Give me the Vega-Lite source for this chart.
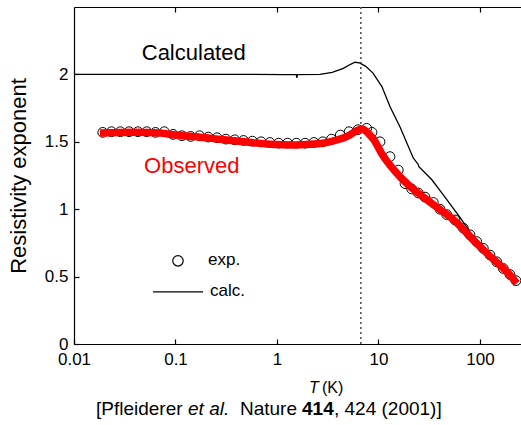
{
  "$schema": "https://vega.github.io/schema/vega-lite/v6.json",
  "width": 447,
  "height": 337,
  "autosize": "none",
  "padding": {"left": 74, "top": 7, "right": 0, "bottom": 81},
  "background": "white",
  "config": {
    "view": {"stroke": null},
    "font": "Liberation Sans",
    "axis": {"grid": false, "domainColor": "black", "tickColor": "black", "labelColor": "black", "titleColor": "black", "labelFont": "Liberation Sans", "titleFont": "Liberation Sans", "domainWidth": 1.2, "tickWidth": 1.2}
  },
  "datasets": {
    "obs": [
      {"T": 0.0192, "v": 1.57}, {"T": 0.0234, "v": 1.575}, {"T": 0.0286, "v": 1.575}, {"T": 0.0349, "v": 1.575},
      {"T": 0.0426, "v": 1.575}, {"T": 0.052, "v": 1.575}, {"T": 0.0635, "v": 1.57}, {"T": 0.0776, "v": 1.575},
      {"T": 0.0947, "v": 1.555}, {"T": 0.1156, "v": 1.545}, {"T": 0.1412, "v": 1.54}, {"T": 0.1723, "v": 1.545},
      {"T": 0.2104, "v": 1.535}, {"T": 0.2569, "v": 1.53}, {"T": 0.3137, "v": 1.52}, {"T": 0.3831, "v": 1.515},
      {"T": 0.4677, "v": 1.51}, {"T": 0.5711, "v": 1.505}, {"T": 0.6973, "v": 1.5}, {"T": 0.8512, "v": 1.495},
      {"T": 1.039, "v": 1.49}, {"T": 1.269, "v": 1.49}, {"T": 1.549, "v": 1.49}, {"T": 1.891, "v": 1.49},
      {"T": 2.309, "v": 1.495}, {"T": 2.819, "v": 1.5}, {"T": 3.442, "v": 1.52}, {"T": 4.203, "v": 1.55},
      {"T": 5.131, "v": 1.575}, {"T": 6.266, "v": 1.59}, {"T": 7.65, "v": 1.6}, {"T": 8.63, "v": 1.57},
      {"T": 10.35, "v": 1.5}, {"T": 12.98, "v": 1.39}, {"T": 15.67, "v": 1.29}, {"T": 18.25, "v": 1.19},
      {"T": 21.24, "v": 1.15}, {"T": 24.67, "v": 1.12}, {"T": 28.72, "v": 1.09}, {"T": 34.66, "v": 1.05},
      {"T": 40.35, "v": 1.0}, {"T": 46.97, "v": 0.96}, {"T": 56.71, "v": 0.92}, {"T": 68.46, "v": 0.86},
      {"T": 79.7, "v": 0.81}, {"T": 92.8, "v": 0.76}, {"T": 107.8, "v": 0.71}, {"T": 125.5, "v": 0.66},
      {"T": 146.1, "v": 0.61}, {"T": 169.7, "v": 0.56}, {"T": 197.5, "v": 0.515}, {"T": 226.3, "v": 0.47}
    ],
    "fit": [
      {"T": 0.018, "v": 1.565}, {"T": 0.04, "v": 1.57}, {"T": 0.07, "v": 1.565}, {"T": 0.1, "v": 1.55},
      {"T": 0.2, "v": 1.53}, {"T": 0.3, "v": 1.515}, {"T": 0.5, "v": 1.498}, {"T": 0.85, "v": 1.482},
      {"T": 1.5, "v": 1.477}, {"T": 2.5, "v": 1.485}, {"T": 3.3, "v": 1.5}, {"T": 5.2, "v": 1.55},
      {"T": 6.0, "v": 1.58}, {"T": 6.9, "v": 1.595}, {"T": 8.0, "v": 1.56}, {"T": 8.9, "v": 1.52},
      {"T": 11, "v": 1.4}, {"T": 15, "v": 1.27}, {"T": 19, "v": 1.19}, {"T": 27.6, "v": 1.09},
      {"T": 40, "v": 1.0}, {"T": 59, "v": 0.9}, {"T": 86, "v": 0.77}, {"T": 126, "v": 0.65},
      {"T": 198, "v": 0.51}, {"T": 230, "v": 0.45}
    ],
    "calc": [
      {"T": 0.01, "v": 2.0}, {"T": 0.1, "v": 2.0}, {"T": 0.5, "v": 2.0}, {"T": 1.2, "v": 1.998},
      {"T": 1.55, "v": 1.998}, {"T": 1.57, "v": 1.975}, {"T": 1.59, "v": 1.998}, {"T": 2.65, "v": 2.0},
      {"T": 3.5, "v": 2.015}, {"T": 4.5, "v": 2.045}, {"T": 5.3, "v": 2.075}, {"T": 5.87, "v": 2.09},
      {"T": 6.5, "v": 2.085}, {"T": 7.5, "v": 2.06}, {"T": 8.83, "v": 2.01}, {"T": 10.8, "v": 1.91},
      {"T": 13.0, "v": 1.76}, {"T": 16.3, "v": 1.61}, {"T": 22.0, "v": 1.38}, {"T": 24.7, "v": 1.33},
      {"T": 25.0, "v": 1.315}, {"T": 33.4, "v": 1.22}, {"T": 43.5, "v": 1.107}, {"T": 48.7, "v": 1.057},
      {"T": 63.5, "v": 0.94}, {"T": 80, "v": 0.83}, {"T": 100, "v": 0.75}, {"T": 126, "v": 0.66},
      {"T": 160, "v": 0.585}, {"T": 200, "v": 0.52}, {"T": 236, "v": 0.47}
    ],
    "tc": [{"T": 6.7, "v": 0}, {"T": 6.7, "v": 2.5}],
    "legline": [{"T": 0.06, "v": 0.386}, {"T": 0.1867, "v": 0.386}],
    "legpt": [{"T": 0.1058, "v": 0.617}],
    "legtext": [{"T": 0.209, "v": 0.624, "label": "exp."}, {"T": 0.2188, "v": 0.39, "label": "calc."}],
    "bignotes": [{"T": 0.0465, "v": 2.162, "label": "Calculated", "kind": "calc"}, {"T": 0.049, "v": 1.317, "label": "Observed", "kind": "obs"}],
    "xtitle": [{"T": 2.775, "v": -0.327, "label": "(K)"}],
    "xtitleit": [{"T": 2.067, "v": -0.327, "label": "T"}],
    "cite": [
      {"T": 0.01647, "v": -0.483, "label": "[Pfleiderer"},
      {"T": 0.4319, "v": -0.483, "label": "Nature"},
      {"T": 3.643, "v": -0.483, "label": ", 424 (2001)]"}
    ],
    "citeit": [{"T": 0.1328, "v": -0.483, "label": "et al."}],
    "citebold": [{"T": 1.763, "v": -0.483, "label": "414"}]
  },
  "encoding": {
    "x": {"field": "T", "type": "quantitative", "scale": {"type": "log", "domain": [0.01, 253.5], "nice": false}, "axis": null},
    "y": {"field": "v", "type": "quantitative", "scale": {"domain": [0, 2.5], "nice": false, "zero": false},
      "axis": {"orient": "left", "values": [0, 0.5, 1, 1.5, 2], "format": "~g", "tickSize": -5, "labelPadding": 11, "labelFontSize": 17, "title": "Resistivity exponent", "titleFontSize": 22, "titleFontWeight": "normal", "titlePadding": 14}}
  },
  "layer": [
    {
      "data": {"name": "tc"},
      "mark": {"type": "line", "color": "#555555", "strokeWidth": 1.6, "strokeDash": [2, 3]},
      "encoding": {
        "x": {"field": "T", "type": "quantitative", "scale": {"type": "log", "domain": [0.01, 253.5], "nice": false},
          "axis": {"orient": "top", "values": [0.1, 1, 10, 100], "labels": false, "tickSize": -5, "title": null}}
      }
    },
    {
      "data": {"name": "calc"},
      "mark": {"type": "line", "color": "black", "strokeWidth": 1.3}
    },
    {
      "data": {"name": "obs"},
      "mark": {"type": "point", "shape": "circle", "filled": false, "stroke": "black", "strokeWidth": 1, "size": 95, "opacity": 1},
      "encoding": {
        "x": {"field": "T", "type": "quantitative", "scale": {"type": "log", "domain": [0.01, 253.5], "nice": false},
          "axis": {"orient": "bottom", "values": [0.01, 0.1, 1, 10, 100], "format": "~g", "tickSize": -5, "labelPadding": 12, "labelFontSize": 17, "title": null, "labelFlush": false}}
      }
    },
    {
      "data": {"name": "fit"},
      "mark": {"type": "line", "color": "#ff0000", "strokeWidth": 7.5, "interpolate": "monotone"}
    },
    {
      "data": {"name": "legline"},
      "mark": {"type": "line", "color": "black", "strokeWidth": 1.3}
    },
    {
      "data": {"name": "legpt"},
      "mark": {"type": "point", "shape": "circle", "filled": false, "stroke": "black", "strokeWidth": 1.2, "size": 110, "opacity": 1}
    },
    {
      "data": {"name": "legtext"},
      "mark": {"type": "text", "align": "left", "baseline": "middle", "fontSize": 17, "font": "Liberation Sans", "color": "black"},
      "encoding": {"text": {"field": "label"}}
    },
    {
      "data": {"name": "bignotes"},
      "mark": {"type": "text", "align": "left", "baseline": "middle", "fontSize": 22, "font": "Liberation Sans"},
      "encoding": {
        "text": {"field": "label"},
        "color": {"field": "kind", "type": "nominal", "scale": {"domain": ["calc", "obs"], "range": ["black", "#ff0000"]}, "legend": null}
      }
    },
    {
      "data": {"name": "xtitle"},
      "mark": {"type": "text", "align": "left", "baseline": "middle", "fontSize": 16, "font": "Liberation Sans", "color": "black"},
      "encoding": {"text": {"field": "label"}}
    },
    {
      "data": {"name": "xtitleit"},
      "mark": {"type": "text", "align": "left", "baseline": "middle", "fontSize": 16, "font": "Liberation Sans", "fontStyle": "italic", "color": "black"},
      "encoding": {"text": {"field": "label"}}
    },
    {
      "data": {"name": "cite"},
      "mark": {"type": "text", "align": "left", "baseline": "middle", "fontSize": 19, "font": "Liberation Sans", "color": "black"},
      "encoding": {"text": {"field": "label"}}
    },
    {
      "data": {"name": "citeit"},
      "mark": {"type": "text", "align": "left", "baseline": "middle", "fontSize": 19, "font": "Liberation Sans", "fontStyle": "italic", "color": "black"},
      "encoding": {"text": {"field": "label"}}
    },
    {
      "data": {"name": "citebold"},
      "mark": {"type": "text", "align": "left", "baseline": "middle", "fontSize": 19, "font": "Liberation Sans", "fontWeight": "bold", "color": "black"},
      "encoding": {"text": {"field": "label"}}
    }
  ]
}
